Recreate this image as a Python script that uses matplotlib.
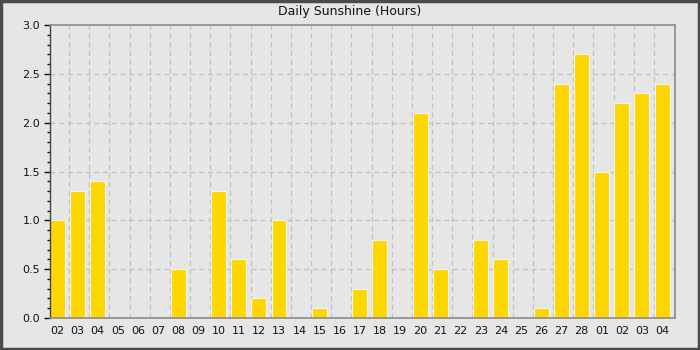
import matplotlib
matplotlib.use('Agg')
import matplotlib.pyplot as plt
import matplotlib.patches as patches
from matplotlib.ticker import MultipleLocator

# Datos
dias = ['02', '03', '04', '05', '06', '07', '08', '09', '10', '11', '12', '13', '14', '15',
        '16', '17', '18', '19', '20', '21', '22', '23', '24', '25', '26', '27', '28',
        '01', '02', '03', '04']
horas_sol = [1.0, 1.3, 1.4, 0, 0, 0, 0.5, 0, 1.3, 0.6, 0.2, 1.0, 0, 0.1,
             0, 0.3, 0.8, 0, 2.1, 0.5, 0, 0.8, 0.6, 0, 0.1, 2.4, 2.7,
             1.5, 2.2, 2.3, 2.4]

fondo = '#e6e6e6'
fig = plt.figure(figsize=(7, 3.5), dpi=100, facecolor=fondo)
ax = fig.add_axes([50/700, 1 - 318/350, 625/700, 293/350])
ax.set_facecolor(fondo)

# Marco oscuro alrededor de la figura
fig.patches.append(patches.Rectangle((0.0015, 0.003), 0.997, 0.994, transform=fig.transFigure,
                                     fill=False, edgecolor='#4a4a4a', linewidth=2.5))

x = list(range(len(dias)))
# sin borde para las barras de valor cero
bordes = ['#f4f4f0' if h > 0 else 'none' for h in horas_sol]
ax.bar([i - 0.01 for i in x], horas_sol, width=0.74, color='#ffd700',
       edgecolor=bordes, linewidth=0.8, zorder=2)

# Rejilla
for i in range(1, len(dias)):
    ax.axvline(i - 0.42, color='#c0c0c0', linestyle=(0, (4, 3)), linewidth=0.9, zorder=1)
for v in [0.5, 1.0, 1.5, 2.0, 2.5]:
    ax.axhline(v, color='#c0c0c0', linestyle=(0, (4, 3)), linewidth=0.9, zorder=1)

ax.set_xlim(-0.37, 30.63)
ax.set_ylim(0, 3.0)
ax.set_xticks(x)
ax.set_xticklabels(dias, fontsize=8)
ax.tick_params(axis='x', length=0, pad=6, colors='#111111')
ax.yaxis.set_major_locator(MultipleLocator(0.5))
ax.yaxis.set_minor_locator(MultipleLocator(0.1))
ax.tick_params(axis='y', which='major', length=4, width=1, labelsize=8, colors='#111111', pad=3)
ax.tick_params(axis='y', which='minor', length=2, width=1, colors='#111111')

for lado in ['top', 'right', 'bottom']:
    ax.spines[lado].set_color('#8a8a8a')
    ax.spines[lado].set_linewidth(1.2)
    ax.spines[lado].set_zorder(4)
ax.spines['left'].set_color('#444444')
ax.spines['left'].set_linewidth(1.0)
ax.spines['left'].set_zorder(4)

fig.text(0.5, 1 - 12/350, 'Daily Sunshine (Hours)', ha='center', va='center', fontsize=9, color='#111111')

fig.savefig('out.png', dpi=100, facecolor=fondo)
